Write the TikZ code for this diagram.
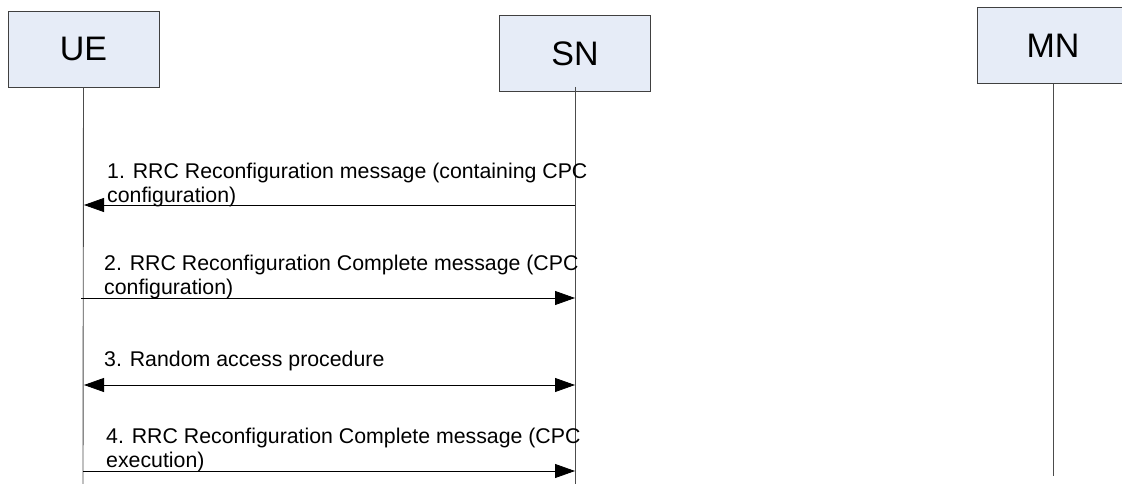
\documentclass[tikz,border=0pt]{standalone}
\usepackage{fontspec}
\setmainfont{Liberation Sans}
\usetikzlibrary{arrows.meta}
\definecolor{boxfill}{HTML}{E6ECF7}
\definecolor{boxline}{HTML}{404040}
\begin{document}
\begin{tikzpicture}[x=1pt,y=-1pt,
  entity/.style={draw=boxline, fill=boxfill, line width=0.9pt, minimum width=151pt, minimum height=76pt, inner sep=0pt, font=\fontsize{34}{38}\selectfont},
  life/.style={draw=black!70, line width=0.9pt},
  msg/.style={draw=black, line width=0.8pt, -{Triangle[length=20pt,width=14pt]}},
  msgboth/.style={draw=black, line width=0.8pt, {Triangle[length=20pt,width=14pt]}-{Triangle[length=20pt,width=14pt]}},
  msgtext/.style={anchor=base west, inner sep=0pt, align=left, font=\fontsize{21.3}{24}\selectfont}]
\clip (0,0) rectangle (1122,484);
% entities
\node[entity] (UE) at (83.5,49) {UE};
\node[entity] (SN) at (575,53.5) {SN};
\node[entity] (MN) at (1053,45.5) {MN};
% lifeline ends
\coordinate (UEend) at (83,484);
\coordinate (SNend) at (575,484);
\coordinate (MNend) at (1053,476);
\coordinate (SNtop) at (575,87);
\draw[life] (UE.south) -- (UEend);
\draw[life] (SNtop) -- (SNend);
\draw[life] (MN.south) -- (MNend);
% message end points
\coordinate (m1s) at (575,205); \coordinate (m1e) at (84,205);
\coordinate (m2s) at (81,298);  \coordinate (m2e) at (575,298);
\coordinate (m3s) at (84,385);  \coordinate (m3e) at (575,385);
\coordinate (m4s) at (83,471);  \coordinate (m4e) at (575,471);
\draw[msg] (m1s) -- (m1e);
\draw[msg] (m2s) -- (m2e);
\draw[msgboth] (m3s) -- (m3e);
\draw[msg] (m4s) -- (m4e);
% labels (base anchor = baseline of last line)
\node[msgtext] (t1) at (107,202) {1. RRC Reconfiguration message (containing CPC\\configuration)};
\node[msgtext] (t2) at (104,294) {2. RRC Reconfiguration Complete message (CPC\\configuration)};
\node[msgtext] (t3) at (104,366) {3. Random access procedure};
\node[msgtext] (t4) at (106,467) {4. RRC Reconfiguration Complete message (CPC\\execution)};
\end{tikzpicture}
\end{document}
